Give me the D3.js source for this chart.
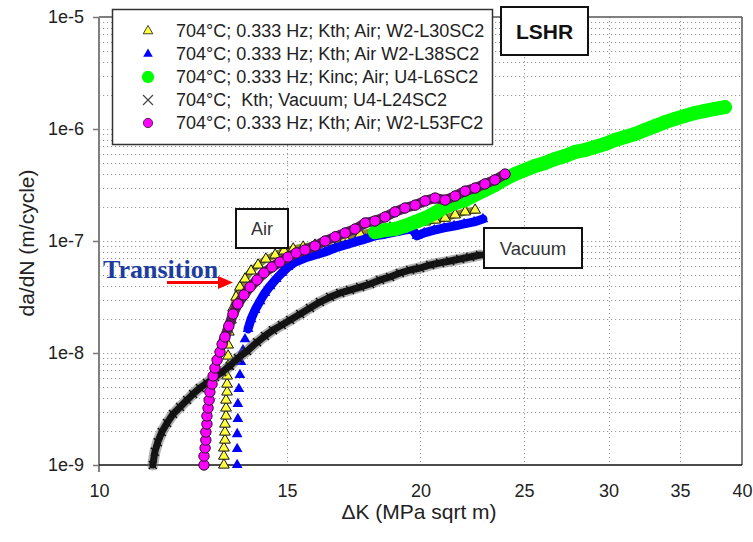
<!DOCTYPE html>
<html>
<head>
<meta charset="utf-8">
<script src="https://cdn.jsdelivr.net/npm/d3@7"></script>
<style>
  body { margin: 0; background: #fff; }
  svg { display: block; }
</style>
</head>
<body>
<div id="chart"></div>
<script>
'use strict';

// axis ticks
var xTicks = [10, 15, 20, 25, 30, 35, 40];
var yTicks = [1e-9, 1e-8, 1e-7, 1e-6, 1e-5];
var yTickLabels = ['1e-9', '1e-8', '1e-7', '1e-6', '1e-5'];

var legendLabels = [
  '704\u00b0C; 0.333 Hz; Kth; Air; W2-L30SC2',
  '704\u00b0C; 0.333 Hz; Kth; Air W2-L38SC2',
  '704\u00b0C; 0.333 Hz; Kinc; Air; U4-L6SC2',
  '704\u00b0C;  Kth; Vacuum; U4-L24SC2',
  '704\u00b0C; 0.333 Hz; Kth; Air; W2-L53FC2'
];

// [dK (MPa sqrt m), da/dN (m/cycle)]
var w2L30 = [
  [13.09, 1.0e-9], [13.09, 1.20e-9], [13.09, 1.42e-9], [13.12, 1.67e-9], [13.12, 1.97e-9],
  [13.12, 2.32e-9], [13.15, 2.74e-9], [13.15, 3.23e-9], [13.15, 3.80e-9], [13.18, 4.49e-9],
  [13.18, 5.28e-9], [13.18, 6.24e-9], [13.21, 7.66e-9], [13.21, 9.40e-9], [13.21, 1.18e-8],
  [13.23, 1.54e-8], [13.29, 1.97e-8], [13.35, 2.52e-8], [13.44, 3.16e-8], [13.55, 3.88e-8],
  [13.70, 4.58e-8], [13.88, 5.40e-8], [14.09, 6.11e-8], [14.33, 6.90e-8], [14.62, 7.50e-8],
  [14.90, 8.15e-8], [15.20, 8.49e-8], [15.53, 8.83e-8], [15.93, 9.20e-8], [16.46, 9.80e-8],
  [17.00, 1.06e-7], [17.56, 1.15e-7], [18.13, 1.23e-7], [18.73, 1.31e-7], [19.34, 1.36e-7],
  [19.77, 1.42e-7], [20.20, 1.48e-7], [20.64, 1.54e-7], [21.09, 1.60e-7], [21.55, 1.71e-7],
  [22.02, 1.82e-7], [22.50, 1.89e-7]
];

var w2L38 = [
  [13.47, 1.0e-9], [13.47, 1.39e-9], [13.47, 1.89e-9], [13.49, 2.58e-9], [13.49, 3.51e-9],
  [13.52, 4.78e-9], [13.55, 6.37e-9], [13.58, 8.32e-9], [13.64, 1.06e-8], [13.70, 1.33e-8],
  [13.79, 1.64e-8], [13.88, 2.01e-8], [14.00, 2.42e-8], [14.15, 2.91e-8], [14.30, 3.44e-8],
  [14.46, 3.96e-8], [14.65, 4.58e-8], [14.83, 5.18e-8], [15.03, 5.86e-8], [15.26, 6.49e-8],
  [15.59, 7.05e-8], [15.93, 7.50e-8], [16.28, 7.98e-8], [16.64, 8.66e-8], [17.00, 9.20e-8],
  [17.37, 9.80e-8], [17.75, 1.04e-7], [18.13, 1.11e-7], [18.53, 1.15e-7], [18.93, 1.20e-7],
  [19.34, 1.25e-7], [19.64, 1.28e-7], [19.85, 1.11e-7], [20.16, 1.18e-7], [20.60, 1.25e-7],
  [21.04, 1.31e-7], [21.50, 1.36e-7], [21.97, 1.42e-7], [22.45, 1.48e-7], [22.88, 1.57e-7]
];

var u4L6 = [
  [18.13, 1.20e-7], [18.53, 1.25e-7], [18.93, 1.28e-7], [19.34, 1.36e-7], [19.77, 1.48e-7],
  [20.20, 1.60e-7], [20.64, 1.78e-7], [21.09, 2.01e-7], [21.55, 2.18e-7], [22.02, 2.32e-7],
  [22.50, 2.58e-7], [22.98, 2.85e-7], [23.48, 3.16e-7], [24.00, 3.58e-7], [24.52, 3.96e-7],
  [25.05, 4.31e-7], [25.60, 4.68e-7], [26.15, 4.97e-7], [26.73, 5.40e-7], [27.31, 5.74e-7],
  [27.91, 6.24e-7], [28.51, 6.49e-7], [29.13, 6.90e-7], [29.77, 7.35e-7], [30.42, 7.98e-7],
  [31.08, 8.49e-7], [31.76, 9.02e-7], [32.45, 9.80e-7], [33.16, 1.06e-6], [33.88, 1.15e-6],
  [34.62, 1.23e-6], [35.37, 1.31e-6], [36.15, 1.39e-6], [36.93, 1.45e-6], [37.74, 1.51e-6],
  [38.56, 1.57e-6]
];

var u4L24 = [
  [11.23, 1.0e-9], [11.28, 1.31e-9], [11.35, 1.60e-9], [11.45, 1.97e-9], [11.58, 2.37e-9],
  [11.73, 2.85e-9], [11.91, 3.30e-9], [12.09, 3.80e-9], [12.25, 4.31e-9], [12.43, 4.87e-9],
  [12.62, 5.40e-9], [12.84, 6.11e-9], [13.04, 6.76e-9], [13.26, 7.66e-9], [13.49, 9.02e-9],
  [13.76, 1.04e-8], [14.06, 1.25e-8], [14.30, 1.42e-8], [14.55, 1.60e-8], [14.83, 1.78e-8],
  [15.10, 1.97e-8], [15.43, 2.23e-8], [15.76, 2.52e-8], [16.10, 2.85e-8], [16.46, 3.16e-8],
  [16.82, 3.44e-8], [17.18, 3.65e-8], [17.56, 3.88e-8], [17.94, 4.13e-8], [18.33, 4.49e-8],
  [18.73, 4.78e-8], [19.13, 5.18e-8], [19.56, 5.51e-8], [19.98, 5.74e-8], [20.42, 6.11e-8],
  [20.86, 6.37e-8], [21.32, 6.62e-8], [21.78, 6.90e-8], [22.26, 7.19e-8], [22.74, 7.50e-8]
];

var w2L53 = [
  [12.54, 1.0e-9], [12.54, 1.20e-9], [12.57, 1.42e-9], [12.59, 1.67e-9], [12.59, 1.97e-9],
  [12.62, 2.32e-9], [12.62, 2.74e-9], [12.65, 3.23e-9], [12.68, 3.80e-9], [12.70, 4.49e-9],
  [12.76, 5.28e-9], [12.79, 6.24e-9], [12.84, 7.35e-9], [12.90, 8.66e-9], [12.98, 1.02e-8],
  [13.04, 1.20e-8], [13.12, 1.39e-8], [13.23, 1.74e-8], [13.35, 2.23e-8], [13.49, 2.74e-8],
  [13.67, 3.30e-8], [13.85, 3.88e-8], [14.06, 4.49e-8], [14.27, 5.18e-8], [14.52, 5.86e-8],
  [14.77, 6.49e-8], [15.03, 7.19e-8], [15.30, 7.82e-8], [15.59, 8.32e-8], [15.93, 9.02e-8],
  [16.28, 1.00e-7], [16.64, 1.09e-7], [17.00, 1.18e-7], [17.37, 1.28e-7], [17.75, 1.45e-7],
  [18.13, 1.51e-7], [18.53, 1.64e-7], [18.93, 1.82e-7], [19.34, 1.97e-7], [19.77, 2.09e-7],
  [20.20, 2.28e-7], [20.64, 2.42e-7], [21.09, 2.32e-7], [21.55, 2.52e-7], [22.02, 2.79e-7],
  [22.50, 2.97e-7], [22.98, 3.23e-7], [23.48, 3.51e-7], [24.00, 3.96e-7]
];

var width = 753;
var height = 542;
var plot = { left: 99, right: 742, top: 17, bottom: 465 };
var fontSans = '"Liberation Sans", Arial, sans-serif';

var x = d3.scaleLog().domain([10, 40]).range([plot.left, plot.right]);
var y = d3.scaleLog().domain([1e-9, 1e-5]).range([plot.bottom, plot.top]);

var svg = d3.select('#chart').append('svg')
  .attr('width', width)
  .attr('height', height)
  .attr('viewBox', [0, 0, width, height])
  .style('font-family', fontSans);

// dotted grid
var grid = svg.append('g')
  .attr('stroke', '#9a9a9a')
  .attr('stroke-width', 1)
  .attr('stroke-dasharray', '1.2,2.8');

grid.selectAll('line.h')
  .data(y.ticks().filter(function (v) { return v > 1.01e-9 && v < 0.99e-5; }))
  .join('line')
  .attr('class', 'h')
  .attr('x1', plot.left)
  .attr('x2', plot.right)
  .attr('y1', function (d) { return Math.round(y(d)) + 0.5; })
  .attr('y2', function (d) { return Math.round(y(d)) + 0.5; });

grid.selectAll('line.v')
  .data(xTicks.slice(1, -1))
  .join('line')
  .attr('class', 'v')
  .attr('y1', plot.top)
  .attr('y2', plot.bottom)
  .attr('x1', function (d) { return Math.round(x(d)) + 0.5; })
  .attr('x2', function (d) { return Math.round(x(d)) + 0.5; });

// frame
svg.append('line')
  .attr('x1', plot.left).attr('x2', plot.right)
  .attr('y1', plot.top).attr('y2', plot.top)
  .attr('stroke', '#555').attr('stroke-width', 1.5);
svg.append('line')
  .attr('x1', plot.right).attr('x2', plot.right)
  .attr('y1', plot.top).attr('y2', plot.bottom)
  .attr('stroke', '#555').attr('stroke-width', 1.5);

// axes
var yAxis = svg.append('g')
  .attr('transform', 'translate(' + plot.left + ',0)')
  .call(d3.axisLeft(y)
    .tickValues(yTicks)
    .tickFormat(function (d, i) { return yTickLabels[i]; })
    .tickSize(6)
    .tickPadding(9));
yAxis.select('.domain').remove();
yAxis.selectAll('.tick line').attr('stroke', '#777').attr('stroke-width', 1.5);
yAxis.selectAll('.tick text')
  .attr('font-size', 18)
  .attr('fill', '#222')
  .attr('font-family', fontSans);

svg.append('line')
  .attr('x1', plot.left).attr('x2', plot.left)
  .attr('y1', plot.top).attr('y2', plot.bottom + 7)
  .attr('stroke', '#7f7f7f').attr('stroke-width', 2);

var xAxis = svg.append('g')
  .attr('transform', 'translate(0,' + plot.bottom + ')')
  .call(d3.axisBottom(x)
    .tickValues(xTicks)
    .tickFormat(d3.format('d'))
    .tickSize(0)
    .tickPadding(19));
xAxis.select('.domain').remove();
xAxis.selectAll('.tick text')
  .attr('font-size', 18)
  .attr('fill', '#222')
  .attr('font-family', fontSans);

svg.append('line')
  .attr('x1', plot.left).attr('x2', plot.right)
  .attr('y1', plot.bottom).attr('y2', plot.bottom)
  .attr('stroke', '#111').attr('stroke-width', 1.5);

// axis titles
svg.append('text')
  .attr('x', 419).attr('y', 519)
  .attr('text-anchor', 'middle')
  .attr('font-size', 21)
  .attr('fill', '#222')
  .text('\u0394K (MPa sqrt m)');

svg.append('text')
  .attr('transform', 'translate(34,243) rotate(-90)')
  .attr('text-anchor', 'middle')
  .attr('font-size', 21)
  .attr('fill', '#222')
  .text('da/dN (m/cycle)');

// series, in legend order (later ones on top)
var crossPath = 'M-4,-4L4,4M-4,4L4,-4';
var series = [
  { data: w2L30, shape: d3.symbolTriangle, size: 50, fill: '#ffff40', stroke: '#111', strokeWidth: 1,
    band: '#8c8a2a', bandWidth: 7, bandFrom: 1.5e-8 },
  { data: w2L38, shape: d3.symbolTriangle, size: 50, fill: '#0000ff', stroke: 'none', strokeWidth: 0,
    band: '#0000ff', bandWidth: 9, bandFrom: 1.5e-8 },
  { data: u4L6, shape: d3.symbolCircle, size: 150, fill: '#00ff00', stroke: 'none', strokeWidth: 0,
    band: '#00ff00', bandWidth: 14, bandFrom: 0 },
  { data: u4L24, shape: null, size: 0, fill: 'none', stroke: '#111', strokeWidth: 1.4,
    band: '#151515', bandWidth: 7, bandFrom: 0 },
  { data: w2L53, shape: d3.symbolCircle, size: 85, fill: '#ff00ff', stroke: '#2a102a', strokeWidth: 1,
    band: '#5e1f5e', bandWidth: 10, bandFrom: 1.1e-8 }
];

var line = d3.line()
  .x(function (d) { return x(d[0]); })
  .y(function (d) { return y(d[1]); });

var marks = svg.append('g');
series.forEach(function (s) {
  var g = marks.append('g');
  var dense = s.data.filter(function (d) { return d[1] >= s.bandFrom; });

  if (!s.shape) {
    // grey fuzz around the packed vacuum crosses
    g.append('path')
      .attr('d', line(dense))
      .attr('fill', 'none')
      .attr('stroke', '#666')
      .attr('stroke-width', 11)
      .attr('stroke-linejoin', 'round')
      .attr('stroke-linecap', 'round')
      .attr('opacity', 0.5);
  }
  g.append('path')
    .attr('d', line(dense))
    .attr('fill', 'none')
    .attr('stroke', s.band)
    .attr('stroke-width', s.bandWidth)
    .attr('stroke-linejoin', 'round')
    .attr('stroke-linecap', 'round');

  g.selectAll('path.pt')
    .data(s.data)
    .join('path')
    .attr('class', 'pt')
    .attr('transform', function (d) { return 'translate(' + x(d[0]) + ',' + y(d[1]) + ')'; })
    .attr('d', s.shape ? d3.symbol().type(s.shape).size(s.size)() : crossPath)
    .attr('fill', s.fill)
    .attr('stroke', s.stroke)
    .attr('stroke-width', s.strokeWidth);
});

// legend
var legend = svg.append('g');
legend.append('rect')
  .attr('x', 112.5).attr('y', 9.5)
  .attr('width', 380).attr('height', 135)
  .attr('fill', '#fff')
  .attr('stroke', '#333')
  .attr('stroke-width', 1.5);

var rows = legend.selectAll('g.row')
  .data(series)
  .join('g')
  .attr('class', 'row')
  .attr('transform', function (d, i) { return 'translate(0,' + (31 + i * 23) + ')'; });

rows.append('path')
  .attr('transform', 'translate(148,0)')
  .attr('d', function (d) { return d.shape ? d3.symbol().type(d.shape).size(d.size * 0.8)() : 'M-5,-5L5,5M-5,5L5,-5'; })
  .attr('fill', function (d) { return d.fill; })
  .attr('stroke', function (d) { return d.shape ? d.stroke : '#444'; })
  .attr('stroke-width', function (d) { return d.shape ? 0.8 : 1.2; });

rows.append('text')
  .attr('x', 176)
  .attr('dy', '0.36em')
  .attr('font-size', 18)
  .attr('fill', '#222')
  .style('white-space', 'pre')
  .text(function (d, i) { return legendLabels[i]; });

// annotation boxes
function labelBox(x0, y0, w, h, label, size, weight) {
  svg.append('rect')
    .attr('x', x0).attr('y', y0)
    .attr('width', w).attr('height', h)
    .attr('fill', '#fff')
    .attr('stroke', '#111')
    .attr('stroke-width', 2);
  svg.append('text')
    .attr('x', x0 + w / 2).attr('y', y0 + h / 2)
    .attr('dy', '0.36em')
    .attr('text-anchor', 'middle')
    .attr('font-size', size)
    .attr('font-weight', weight)
    .attr('fill', weight === 'bold' ? '#111' : '#333')
    .text(label);
}
labelBox(501, 7, 87, 48, 'LSHR', 21, 'bold');
labelBox(236, 209, 52, 39, 'Air', 18, 'normal');
labelBox(484, 228, 98, 40, 'Vacuum', 18.5, 'normal');

svg.append('text')
  .attr('x', 103).attr('y', 278)
  .attr('font-family', '"Liberation Serif", "Times New Roman", serif')
  .attr('font-weight', 'bold')
  .attr('font-size', 26)
  .attr('fill', '#1c3d9e')
  .text('Transition');

svg.append('line')
  .attr('x1', 167).attr('x2', 219)
  .attr('y1', 282.5).attr('y2', 282.5)
  .attr('stroke', '#ff0000')
  .attr('stroke-width', 3);
svg.append('path')
  .attr('d', 'M218,276L233,282.5L218,289Z')
  .attr('fill', '#ff0000');
</script>
</body>
</html>
